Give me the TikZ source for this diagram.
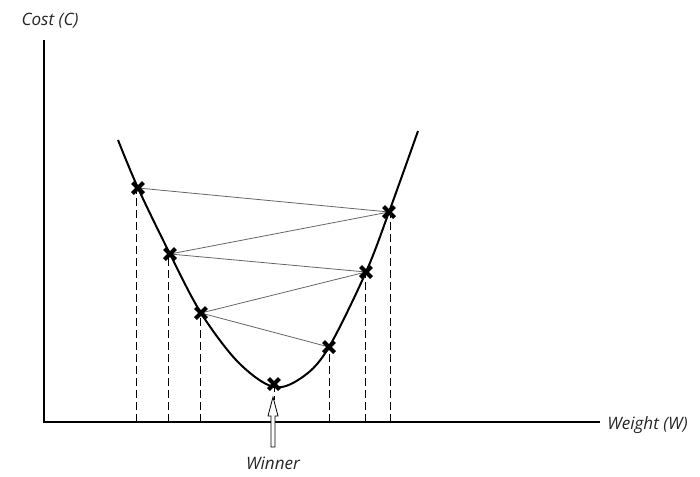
\documentclass[tikz,border=0pt]{standalone}
\usepackage{fontspec}
\setmainfont{Open Sans}
\usetikzlibrary{arrows.meta,calc}
\tikzset{
  axis/.style={line width=0.8pt, black},
  curve/.style={line width=1.5pt, black},
  link/.style={line width=0.6pt, black!60},
  drop/.style={line width=0.6pt, black, dash pattern=on 6pt off 3pt},
  xmark/.style={line width=3pt, black},
  lbl/.style={font=\itshape\fontsize{12.8}{14}\selectfont, text=black!85, inner sep=0pt},
  pt/.style={inner sep=0pt, minimum size=0pt}
}
\newcommand{\xm}[1]{\draw[xmark] ($(#1)+(-5.5,-5.5)$) -- ($(#1)+(5.5,5.5)$) ($(#1)+(-5.5,5.5)$) -- ($(#1)+(5.5,-5.5)$);}
\begin{document}
\begin{tikzpicture}[x=0.75pt,y=-0.75pt]
\useasboundingbox (0,0) rectangle (700,476);
% axes
\coordinate (O) at (44,422);
\coordinate (Ytop) at (44,40);
\coordinate (Xend) at (600,422);
\draw[axis] (Ytop) -- (O) -- (Xend);
\node[lbl] (ylab) at (50,21) {Cost (C)};
\node[lbl, anchor=west] (xlab) at (607,425) {Weight (W)};
% points
\coordinate (A) at (138,188);
\coordinate (B) at (389,212);
\coordinate (C) at (170,254);
\coordinate (D) at (366,272);
\coordinate (E) at (201,313);
\coordinate (F) at (329,347);
\coordinate (G) at (274,384);
% drops
\foreach \p/\x in {A/136,C/168,E/200,F/329,D/365,B/390}{
  \draw[drop] (\x,422) -- (\p -| \x,0);
}
\draw[drop] (G) -- (274,400);
% curve
\draw[curve] plot[smooth, tension=0.55] coordinates {(118,140) (138,188) (170,254) (201,313) (238,362) (274,387) (304,376) (329,347) (366,272) (389,212) (418,131)};
% links
\draw[link] (A) -- (B);
\draw[link] (B) -- (C);
\draw[link] (C) -- (D);
\draw[link] (D) -- (E);
\draw[link] (E) -- (F);
% marks
\foreach \p in {A,B,C,D,E,F,G}{\xm{\p}}
% winner arrow
\draw[line width=0.6pt, black, fill=white] (271,447) -- (271,416) -- (268,416) -- (273,397) -- (278,416) -- (275,416) -- (275,447) -- cycle;
\node[lbl] (win) at (273,463) {Winner};
\end{tikzpicture}
\end{document}
